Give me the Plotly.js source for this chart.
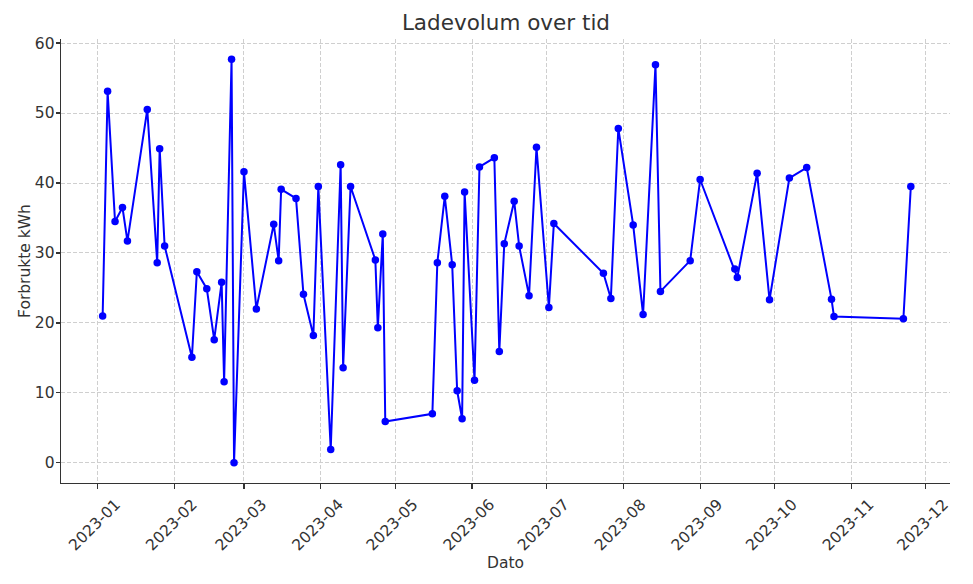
<!DOCTYPE html>
<html>
<head>
<meta charset="utf-8">
<script src="https://cdn.plot.ly/plotly-3.0.1.min.js"></script>
<style>
html,body{margin:0;padding:0;background:#fff;}
#chart{width:973px;height:584px;}
</style>
</head>
<body>
<div id="chart"></div>
<script>
const dates = [
  '2023-01-03','2023-01-05','2023-01-08','2023-01-11','2023-01-13','2023-01-21','2023-01-25','2023-01-26','2023-01-28',
  '2023-02-08','2023-02-10','2023-02-14','2023-02-17','2023-02-20','2023-02-21','2023-02-24','2023-02-25',
  '2023-03-01','2023-03-06','2023-03-13','2023-03-15','2023-03-16','2023-03-22','2023-03-25','2023-03-29','2023-03-31',
  '2023-04-05','2023-04-09','2023-04-10','2023-04-13','2023-04-23','2023-04-24','2023-04-26','2023-04-27',
  '2023-05-16','2023-05-18','2023-05-21','2023-05-24','2023-05-26','2023-05-28','2023-05-29',
  '2023-06-02','2023-06-04','2023-06-10','2023-06-12','2023-06-14','2023-06-18','2023-06-20','2023-06-24','2023-06-27',
  '2023-07-02','2023-07-04','2023-07-24','2023-07-27','2023-07-30',
  '2023-08-05','2023-08-09','2023-08-14','2023-08-16','2023-08-28',
  '2023-09-01','2023-09-15','2023-09-16','2023-09-24','2023-09-29',
  '2023-10-07','2023-10-14','2023-10-24','2023-10-25',
  '2023-11-22','2023-11-25'
];
const kwh = [
  21.0,53.1,34.5,36.5,31.7,50.5,28.6,44.9,31.0,
  15.1,27.3,24.9,17.6,25.8,11.6,57.7,0.0,
  41.6,22.0,34.1,28.9,39.1,37.8,24.1,18.2,39.5,
  1.9,42.6,13.6,39.5,29.0,19.3,32.7,5.9,
  7.0,28.6,38.1,28.3,10.3,6.3,38.7,
  11.8,42.3,43.6,15.9,31.3,37.4,31.0,23.9,45.1,
  22.2,34.2,27.1,23.5,47.8,
  34.0,21.2,56.9,24.5,28.9,
  40.5,27.7,26.5,41.4,23.3,
  40.7,42.2,23.4,20.9,
  20.6,39.5
];
const xTickVals = ['2023-01-01','2023-02-01','2023-03-01','2023-04-01','2023-05-01','2023-06-01',
  '2023-07-01','2023-08-01','2023-09-01','2023-10-01','2023-11-01','2023-12-01'];
const xTickText = ['2023-01','2023-02','2023-03','2023-04','2023-05','2023-06',
  '2023-07','2023-08','2023-09','2023-10','2023-11','2023-12'];
const yTickVals = [0,10,20,30,40,50,60];
const titleText = 'Ladevolum over tid';
const xLabel = 'Dato';
const yLabel = 'Forbrukte kWh';

const trace = {
  x: dates, y: kwh, type: 'scatter', mode: 'lines+markers',
  line: {color: '#0000ff', width: 2},
  marker: {color: '#0000ff', size: 7.5},
  hoverinfo: 'x+y'
};

const font = {family: 'DejaVu Sans, sans-serif', size: 15.5, color: '#333333'};
const layout = {
  width: 973, height: 584,
  paper_bgcolor: '#ffffff', plot_bgcolor: '#ffffff',
  font: font,
  margin: {l: 61, r: 23, t: 39, b: 100.5, pad: 0},
  showlegend: false,
  title: {text: titleText, font: {family: 'DejaVu Sans, sans-serif', size: 21.5, color: '#333333'},
          x: 0.52, xanchor: 'center', y: 1 - 22/584, yanchor: 'middle', yref: 'container'},
  xaxis: {
    type: 'date',
    range: ['2022-12-17 04:48', '2023-12-10 19:12'],
    tickvals: xTickVals, ticktext: xTickText,
    tickangle: -45, ticklabelshift: 18,
    ticks: 'outside', ticklen: 5, tickwidth: 1.2, tickcolor: '#333333',
    showline: true, linecolor: '#333333', linewidth: 1.3, mirror: false,
    showgrid: true, gridcolor: '#cfcfcf', gridwidth: 1, griddash: '4px,2px',
    zeroline: false,
    title: {text: xLabel, font: font, standoff: 2}
  },
  yaxis: {
    range: [-2.885, 60.585],
    tickvals: yTickVals,
    ticks: 'outside', ticklen: 4, tickwidth: 1.2, tickcolor: '#333333',
    ticklabelstandoff: -2,
    showline: true, linecolor: '#333333', linewidth: 1.3, mirror: false,
    showgrid: true, gridcolor: '#cfcfcf', gridwidth: 1, griddash: '4px,2px',
    zeroline: false,
    title: {text: yLabel, font: font, standoff: 0}
  }
};

Plotly.newPlot('chart', [trace], layout, {displayModeBar: false, staticPlot: true});
</script>
</body>
</html>
